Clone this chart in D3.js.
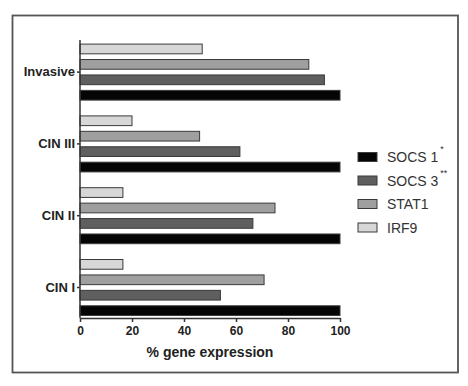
<!DOCTYPE html>
<html>
<head>
<meta charset="utf-8">
<script src="https://cdn.jsdelivr.net/npm/d3@7"></script>
<style>
  body { margin: 0; background: #fff; }
  text { font-family: "Liberation Sans", Arial, sans-serif; }
</style>
</head>
<body>
<div id="chart"></div>
<script>
// groups top to bottom
const stages = ['Invasive', 'CIN III', 'CIN II', 'CIN I'];
// bars inside each group, top to bottom
const genes = ['IRF9', 'STAT1', 'SOCS 3', 'SOCS 1'];
// legend order
const legendGenes = ['SOCS 1', 'SOCS 3', 'STAT1', 'IRF9'];
const legendMarks = ['*', '**', '', ''];
const irf9 = [47, 20, 16.5, 16.5];
const stat1 = [88, 46, 75, 70.8];
const socs3 = [94, 61.5, 66.5, 54];
const socs1 = [100, 100, 100, 100];
const xTicks = [0, 20, 40, 60, 80, 100];

const width = 468, height = 386;
const fills = { 'SOCS 1': '#050505', 'SOCS 3': '#5f5f5f', 'STAT1': '#9f9f9f', 'IRF9': '#d7d7d7' };

const rows = stages.map((s, i) => ({
  stage: s,
  'IRF9': irf9[i], 'STAT1': stat1[i], 'SOCS 3': socs3[i], 'SOCS 1': socs1[i]
}));

const svg = d3.select('#chart').append('svg')
  .attr('width', width)
  .attr('height', height);

// frame round the figure
svg.append('rect')
  .attr('x', 12.5).attr('y', 15.5)
  .attr('width', 445.5).attr('height', 357)
  .attr('fill', '#fff')
  .attr('stroke', '#555')
  .attr('stroke-width', 1.8);

const x = d3.scaleLinear().domain([0, 100]).range([80, 340]);
const y = d3.scaleBand().domain(stages).range([36.2, 323.4]);
const yInner = d3.scaleBand().domain(genes)
  .range([y.bandwidth() / 2 - 28, y.bandwidth() / 2 + 28])
  .paddingInner(0.37);

const groups = svg.selectAll('g.stage')
  .data(rows)
  .enter().append('g')
  .attr('class', 'stage')
  .attr('transform', d => `translate(0,${y(d.stage)})`);

groups.selectAll('rect')
  .data(d => genes.map(g => ({ gene: g, value: d[g] })))
  .enter().append('rect')
  .attr('x', x(0))
  .attr('y', d => yInner(d.gene))
  .attr('width', d => x(d.value) - x(0))
  .attr('height', yInner.bandwidth())
  .attr('fill', d => fills[d.gene])
  .attr('stroke', '#3a3a3a')
  .attr('stroke-width', 1);

// x axis
const xAxis = svg.append('g')
  .attr('transform', 'translate(0,318)')
  .call(d3.axisBottom(x).tickValues(xTicks).tickSize(4).tickSizeOuter(0).tickPadding(4));
xAxis.select('.domain').attr('stroke', '#333').attr('stroke-width', 1.5);
xAxis.selectAll('.tick line').attr('stroke', '#333').attr('stroke-width', 1.5);
xAxis.selectAll('.tick text')
  .attr('font-size', 12).attr('font-weight', 'bold').attr('fill', '#222')
  .attr('font-family', '"Liberation Sans", Arial, sans-serif');

// y axis
const yAxis = svg.append('g')
  .attr('transform', 'translate(80,0)')
  .call(d3.axisLeft(y).tickSize(3).tickSizeOuter(0).tickPadding(2));
yAxis.select('.domain').attr('d', 'M0,40V318').attr('stroke', '#333').attr('stroke-width', 1.5);
yAxis.selectAll('.tick line').attr('stroke', '#333').attr('stroke-width', 1.5);
yAxis.selectAll('.tick text')
  .attr('font-size', 13).attr('font-weight', 'bold').attr('fill', '#222')
  .attr('font-family', '"Liberation Sans", Arial, sans-serif');

svg.append('text')
  .attr('x', x(50)).attr('y', 357)
  .attr('text-anchor', 'middle')
  .attr('font-size', 14).attr('font-weight', 'bold').attr('fill', '#222')
  .text('% gene expression');

// legend
const legend = svg.append('g').attr('transform', 'translate(358,157)');
const items = legend.selectAll('g')
  .data(legendGenes)
  .enter().append('g')
  .attr('transform', (d, i) => `translate(0,${i * 23.5})`);

items.append('rect')
  .attr('x', 0).attr('y', -4.5)
  .attr('width', 19).attr('height', 9)
  .attr('fill', d => fills[d])
  .attr('stroke', '#3a3a3a').attr('stroke-width', 1);

const labels = items.append('text')
  .attr('x', 29).attr('y', 5)
  .attr('font-size', 14).attr('fill', '#333');
labels.append('tspan').text(d => d);
labels.append('tspan')
  .attr('dx', 2).attr('dy', -10)
  .attr('font-size', 9)
  .text((d, i) => legendMarks[i]);
</script>
</body>
</html>
